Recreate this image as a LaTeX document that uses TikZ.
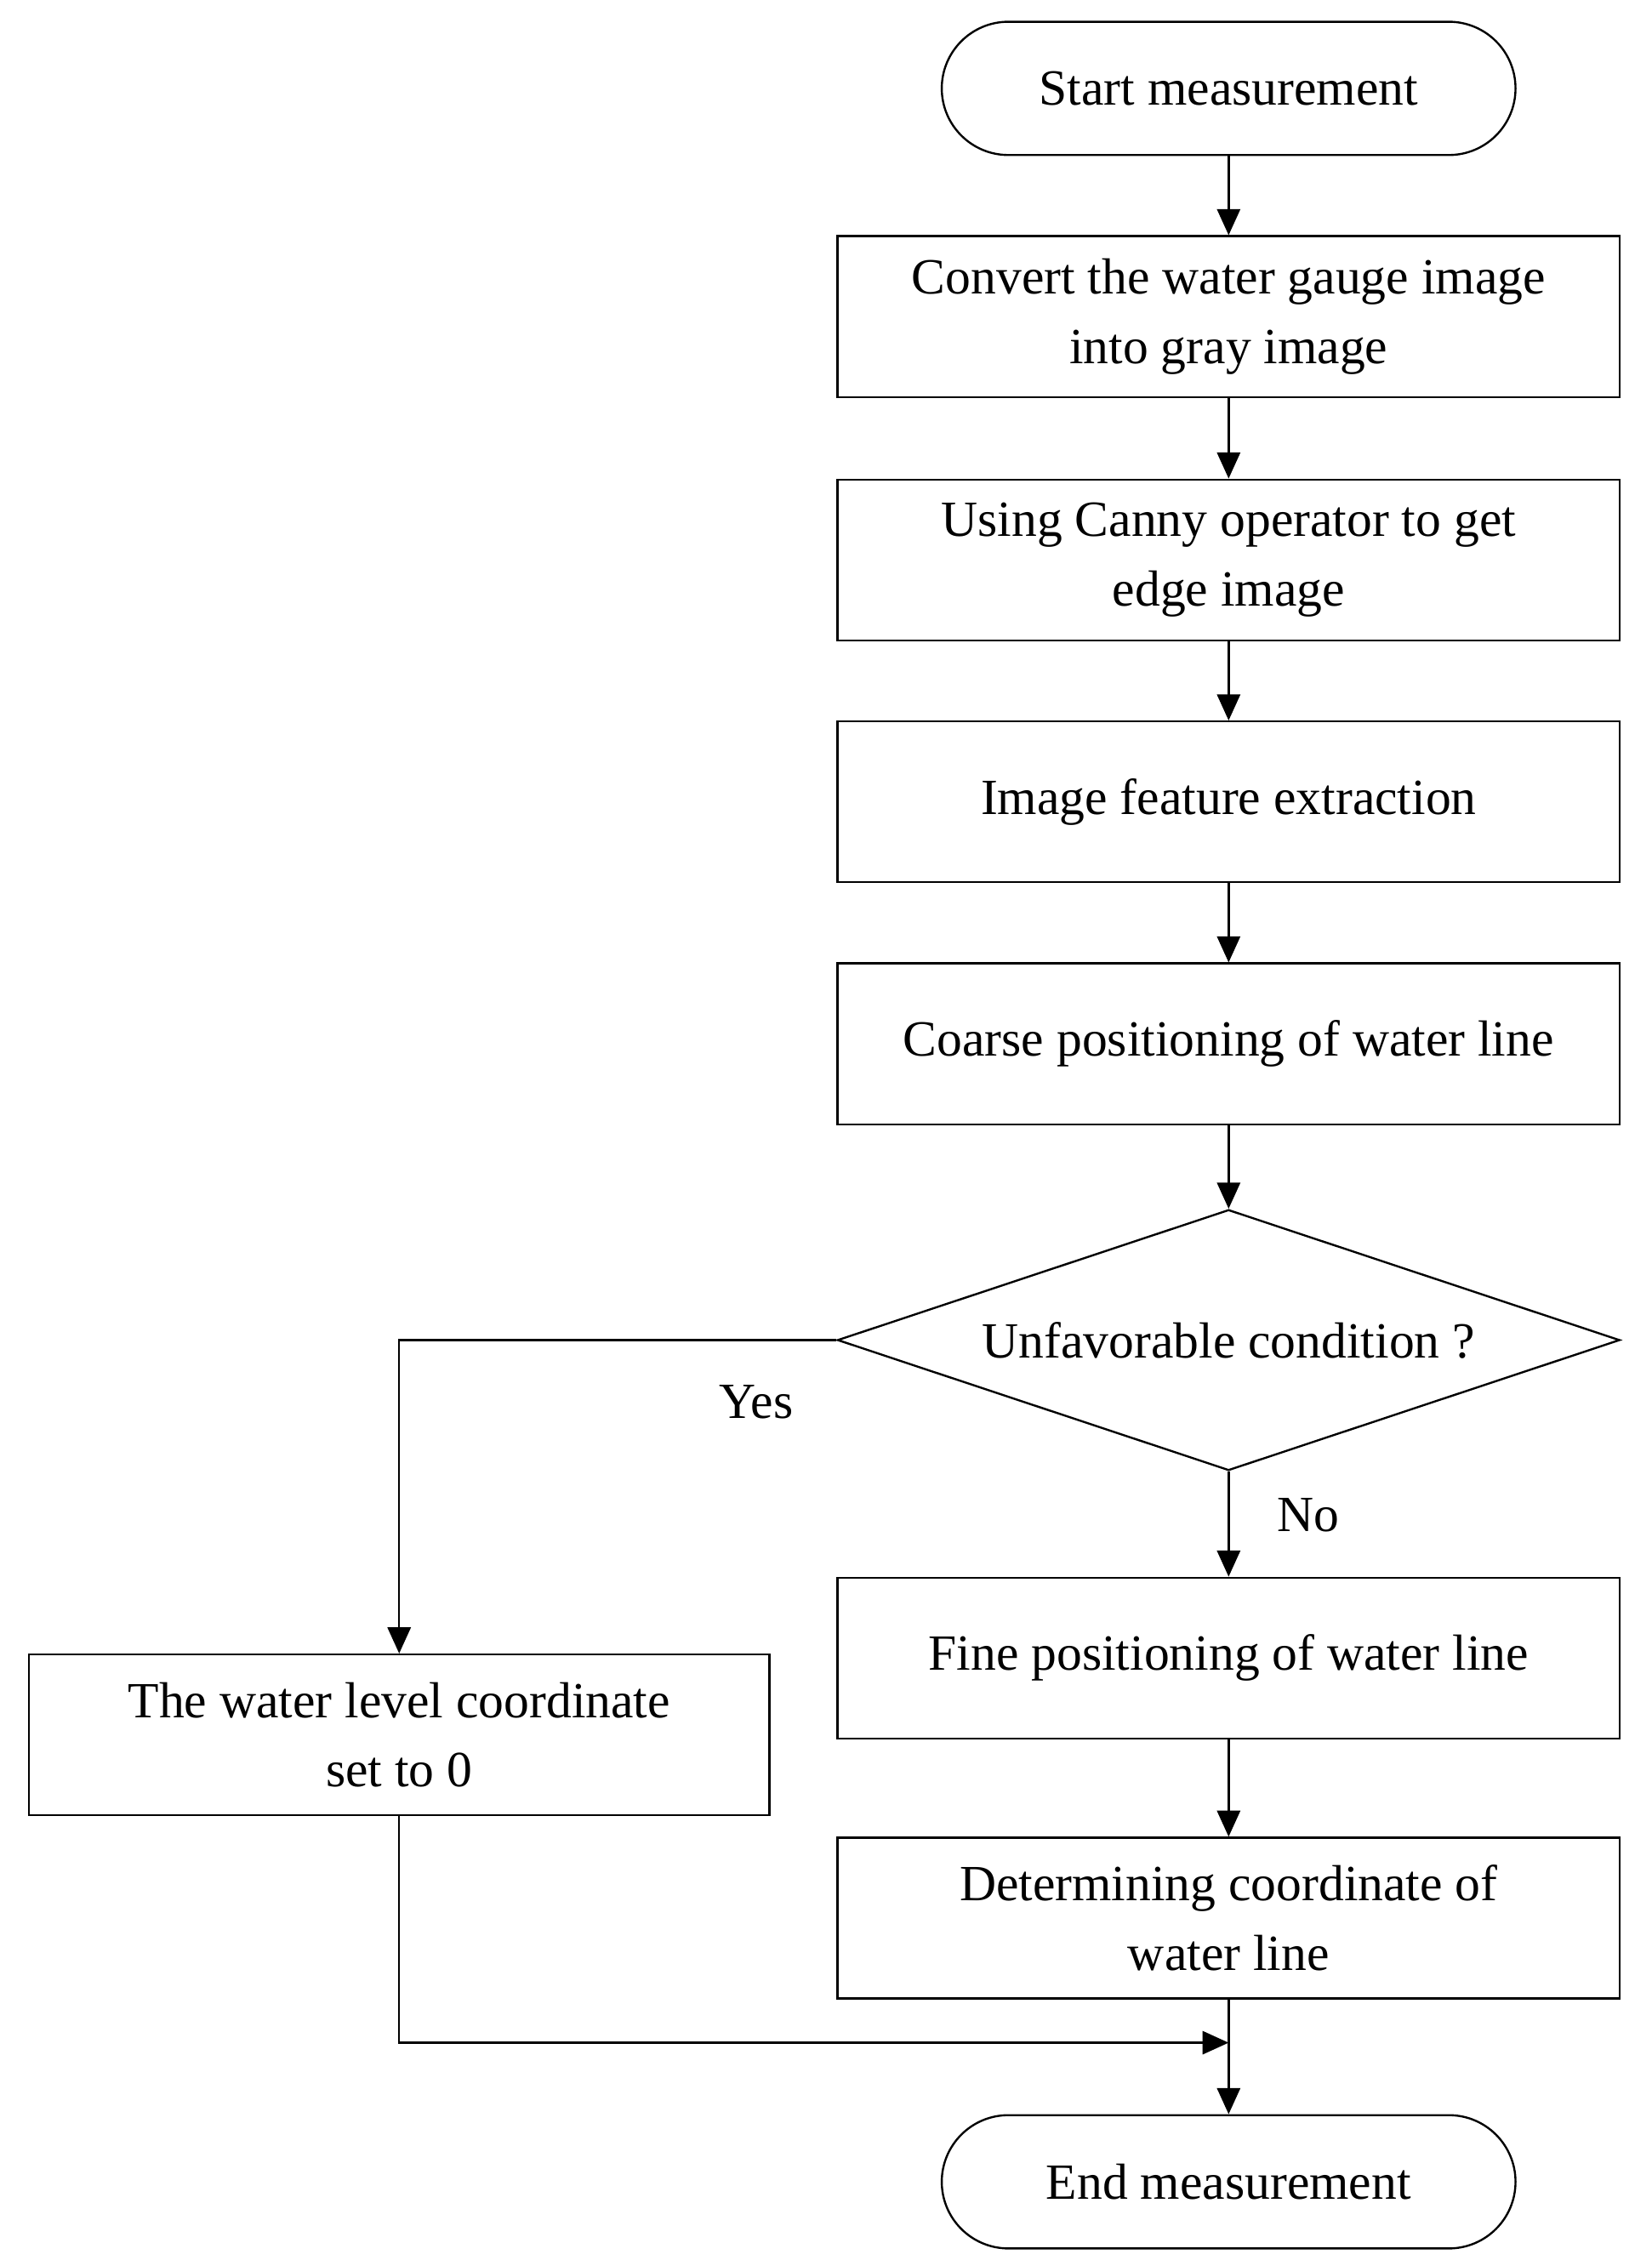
\documentclass[tikz,border=0pt]{standalone}
\usepackage{fontspec}
\setmainfont{Liberation Serif}
\usetikzlibrary{shapes.geometric,arrows.meta}
\begin{document}
\begin{tikzpicture}[x=0.5pt,y=-0.5pt,
  box/.style={draw,line width=0.7pt,minimum width=270pt,minimum height=55.5pt,align=center,inner sep=0pt,font=\fontsize{17.5}{24}\selectfont},
  term/.style={draw,line width=0.7pt,rounded corners=23pt,minimum width=198pt,minimum height=46pt,font=\fontsize{17.5}{24}\selectfont},
  arr/.style={line width=0.7pt,-{Triangle[length=9pt,width=8pt]}},
  lab/.style={font=\fontsize{17.5}{24}\selectfont}]
\useasboundingbox (0,0) rectangle (1140,1560);
\node[term] (s) at (848,61) {Start measurement};
\node[box] (b1) at (848,218.5) {Convert the water gauge image\\into gray image};
\node[box] (b2) at (848,386.5) {Using Canny operator to get\\edge image};
\node[box] (b3) at (848,553.5) {Image feature extraction};
\node[box] (b4) at (848,720.5) {Coarse positioning of water line};
\node[draw,line width=0.7pt,diamond,minimum width=270pt,minimum height=90pt,inner sep=0pt,aspect=3,lab] (d) at (848,925) {Unfavorable condition ?};
\node[box] (f) at (848,1144.5) {Fine positioning of water line};
\node[box] (dc) at (848,1324) {Determining coordinate of\\water line};
\node[box,minimum width=255.5pt] (l) at (275.5,1197.5) {The water level coordinate\\set to 0};
\node[term] (e) at (848,1506) {End measurement};
\coordinate (m) at (848,1410);
\draw[arr] (s) -- (b1);
\draw[arr] (b1) -- (b2);
\draw[arr] (b2) -- (b3);
\draw[arr] (b3) -- (b4);
\draw[arr] (b4) -- (d.north);
\draw[arr] (d.south) -- (f);
\draw[arr] (f) -- (dc);
\draw[arr] (dc) -- (e);
\draw[arr] (d.west) -| (l.north);
\draw[arr] (l.south) |- (m);
\node[lab] (yes) at (522,968) {Yes};
\node[lab] (no) at (903,1046) {No};
\end{tikzpicture}
\end{document}
